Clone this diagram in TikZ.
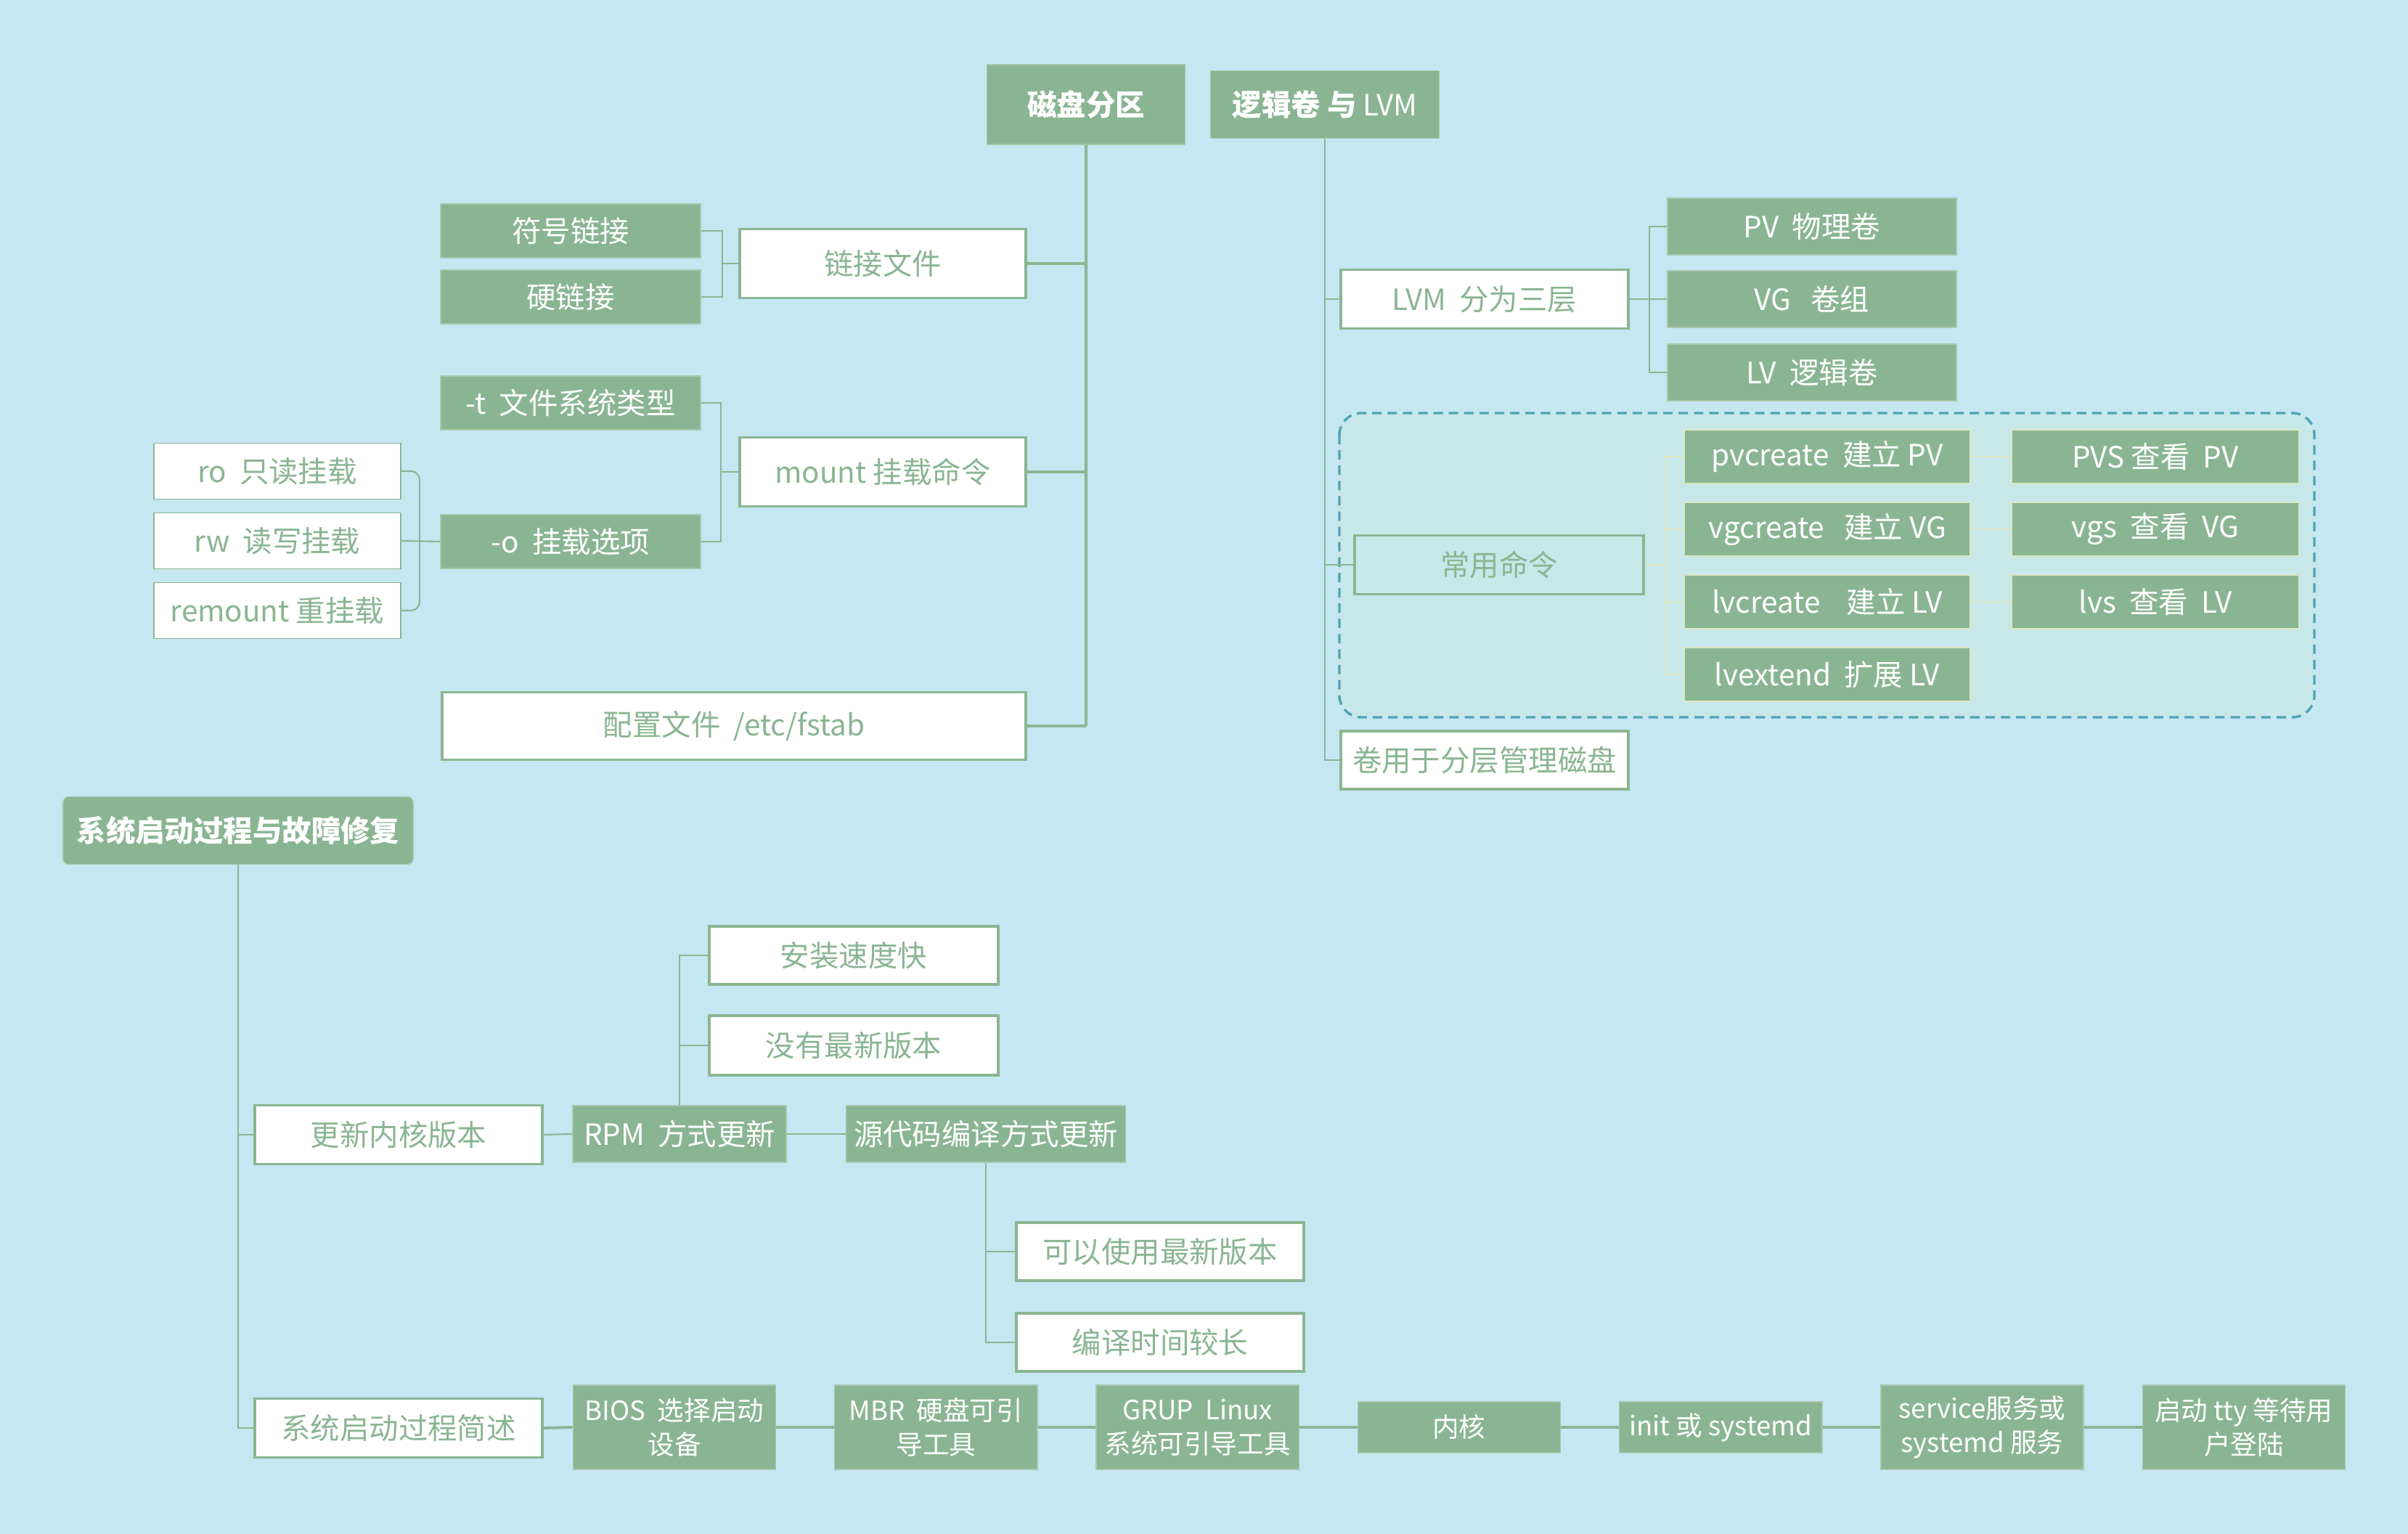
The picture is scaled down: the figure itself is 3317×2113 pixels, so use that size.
\documentclass[tikz,border=0pt]{standalone}
\usepackage{fontspec}
\setmainfont{Noto Sans CJK SC}
\usetikzlibrary{positioning}

\definecolor{bgblue}{HTML}{C5E7F1}
\definecolor{mgreen}{HTML}{8AB592}
\definecolor{grpfill}{HTML}{C8E7E9}
\definecolor{grpline}{HTML}{4FA3B5}
\definecolor{paleline}{HTML}{DCE6C2}

\tikzset{
  boxsize/.style 2 args={minimum width=#1cm, minimum height=#2cm},
  gbox/.style={fill=mgreen, draw=mgreen!75!white, line width=0.4pt, text=white, inner sep=0pt, align=center},
  wbox/.style={fill=white, draw=mgreen, line width=1.1pt, text=mgreen, inner sep=0pt, align=center},
  wthin/.style={wbox, line width=0.5pt},
  cbox/.style={gbox, draw=paleline, line width=0.7pt},
  topic/.style={gbox, font=\bfseries\fontsize{11.5}{14}\selectfont},
  stage/.style={gbox, font=\fontsize{10.4}{13.4}\selectfont},
  link/.style={draw=mgreen, line width=0.6pt},
  thicklink/.style={draw=mgreen, line width=1.1pt},
  pale/.style={draw=paleline, line width=0.6pt},
  grp/.style={draw=grpline, fill=grpfill, line width=0.95pt, dash pattern=on 3.7pt off 2.3pt, rounded corners=0.3cm}
}

\begin{document}
\begin{tikzpicture}[x=0.01cm, y=-0.01cm, font=\fontsize{11.5}{14}\selectfont]
\fill[bgblue] (0,0) rectangle (3317,2113);

% disk partitions
\node[topic, boxsize={2.73}{1.10}] (disk) at (1496,144) {磁盘分区};
\node[wbox, boxsize={3.93}{0.95}] (linkf) at (1216,363) {链接文件};
\node[gbox, boxsize={3.58}{0.74}] (symlink) at (786,318) {符号链接};
\node[gbox, boxsize={3.58}{0.74}] (hardlink) at (786,409) {硬链接};
\node[wbox, boxsize={3.93}{0.95}] (mount) at (1216,650) {mount 挂载命令};
\node[gbox, boxsize={3.58}{0.74}] (optt) at (786,555) {-t\ \ 文件系统类型};
\node[gbox, boxsize={3.58}{0.74}] (opto) at (786,746) {-o\ \ 挂载选项};
\node[wthin, boxsize={3.40}{0.77}] (ro) at (382,649) {ro\ \ 只读挂载};
\node[wthin, boxsize={3.40}{0.77}] (rw) at (382,745) {rw\ \ 读写挂载};
\node[wthin, boxsize={3.40}{0.77}] (remount) at (382,841) {remount 重挂载};
\node[wbox, boxsize={8.04}{0.93}] (fstab) at (1011,1000) {配置文件\ \ /etc/fstab};

\draw[thicklink] (disk.south) -- (disk.south |- fstab.east);
\draw[thicklink] (linkf.east) -- (linkf.east -| disk.south);
\draw[thicklink] (mount.east) -- (mount.east -| disk.south);
\draw[thicklink] (fstab.east) -- (fstab.east -| disk.south);
\draw[link] (symlink.east) -- ++(29,0) |- (linkf.west);
\draw[link] (hardlink.east) -- ++(29,0) |- (linkf.west);
\draw[link] (optt.east) -- ++(27,0) |- (mount.west);
\draw[link] (opto.east) -- ++(27,0) |- (mount.west);
\draw[link, rounded corners=0.12cm] (ro.east) -- ++(25,0) |- (remount.east);
\draw[link] (rw.east) -- (opto.west);

% logical volumes
\draw[grp] (1845,569) rectangle (3188,988);
\node[topic, boxsize={3.15}{0.93}] (lvm) at (1825,144) {逻辑卷 与 \mdseries LVM};
\node[wbox, boxsize={3.95}{0.81}] (layers) at (2045,412) {LVM\ \ 分为三层};
\node[gbox, boxsize={3.98}{0.78}] (pv) at (2496,312) {PV\ \ 物理卷};
\node[gbox, boxsize={3.98}{0.78}] (vg) at (2496,412) {VG\ \ \ 卷组};
\node[gbox, boxsize={3.98}{0.78}] (lv) at (2496,513) {LV\ \ 逻辑卷};
\node[wbox, fill=grpfill, boxsize={3.98}{0.81}] (cmds) at (2065,778) {常用命令};
\node[cbox, boxsize={3.94}{0.74}] (pvc) at (2517,629) {pvcreate\ \ 建立 PV};
\node[cbox, boxsize={3.94}{0.74}, below=0.235cm of pvc] (vgc) {vgcreate\ \ \ 建立 VG};
\node[cbox, boxsize={3.94}{0.74}, below=0.235cm of vgc] (lvc) {lvcreate\ \ \ \ 建立 LV};
\node[cbox, boxsize={3.94}{0.74}, below=0.235cm of lvc] (lve) {lvextend\ \ 扩展 LV};
\node[cbox, boxsize={3.96}{0.74}] (pvs) at (2969,629) {PVS 查看\ \ PV};
\node[cbox, boxsize={3.96}{0.74}, below=0.235cm of pvs] (vgs) {vgs\ \ 查看\ \ VG};
\node[cbox, boxsize={3.96}{0.74}, below=0.235cm of vgs] (lvs) {lvs\ \ 查看\ \ LV};
\node[wbox, boxsize={3.95}{0.80}] (layer) at (2045,1047) {卷用于分层管理磁盘};

\draw[link] (lvm.south) |- (layer.west);
\draw[link] (layers.west -| lvm.south) -- (layers.west);
\draw[link] (cmds.west -| lvm.south) -- (cmds.west);
\draw[link] (layers.east) -- ++(27,0) |- (pv.west);
\draw[link] (layers.east) -- (vg.west);
\draw[link] (layers.east) -- ++(27,0) |- (lv.west);
\draw[pale] (cmds.east) -- ++(27,0) |- (pvc.west);
\draw[pale] (cmds.east) -- ++(27,0) |- (vgc.west);
\draw[pale] (cmds.east) -- ++(27,0) |- (lvc.west);
\draw[pale] (cmds.east) -- ++(27,0) |- (lve.west);
\draw[pale] (pvc.east) -- (pvs.west);
\draw[pale] (vgc.east) -- (vgs.west);
\draw[pale] (lvc.east) -- (lvs.west);

% boot process
\node[topic, rounded corners=0.08cm, boxsize={4.82}{0.93}] (boot) at (328,1144) {系统启动过程与故障修复};
\node[wbox, boxsize={3.96}{0.81}] (kernel) at (549,1563) {更新内核版本};
\node[gbox, boxsize={2.94}{0.78}] (rpm) at (936,1562) {RPM\ \ 方式更新};
\node[gbox, boxsize={3.85}{0.78}] (src) at (1358,1562) {源代码编译方式更新};
\node[wbox, boxsize={3.98}{0.80}] (fast) at (1176,1316) {安装速度快};
\node[wbox, boxsize={3.98}{0.82}] (nonew) at (1176,1440) {没有最新版本};
\node[wbox, boxsize={3.96}{0.80}] (canew) at (1598,1724) {可以使用最新版本};
\node[wbox, boxsize={3.96}{0.80}] (slow) at (1598,1849) {编译时间较长};
\node[wbox, boxsize={3.96}{0.81}] (bootdesc) at (549,1967) {系统启动过程简述};
\node[stage, boxsize={2.79}{1.16}] (bios) at (929,1966) {BIOS\ \ 选择启动\\设备};
\node[stage, boxsize={2.79}{1.16}, right=0.797cm of bios] (mbr) {MBR\ \ 硬盘可引\\导工具};
\node[stage, boxsize={2.79}{1.16}, right=0.797cm of mbr] (grub) {GRUP\ \ Linux\\系统可引导工具};
\node[stage, boxsize={2.79}{0.70}, right=0.797cm of grub] (kern) {内核};
\node[stage, boxsize={2.79}{0.70}, right=0.797cm of kern] (init) {init 或 systemd};
\node[stage, boxsize={2.79}{1.16}, right=0.797cm of init] (svc) {service服务或\\systemd 服务};
\node[stage, boxsize={2.79}{1.16}, right=0.797cm of svc] (tty) {启动 tty 等待用\\户登陆};

\draw[link] (boot.south) |- (bootdesc.west);
\draw[link] (kernel.west -| boot.south) -- (kernel.west);
\draw[link] (kernel.east) -- (rpm.west);
\draw[link] (rpm.east) -- (src.west);
\draw[link] (rpm.north) |- (fast.west);
\draw[link] (rpm.north) |- (nonew.west);
\draw[link] (src.south) |- (canew.west);
\draw[link] (src.south) |- (slow.west);
\draw[thicklink] (bootdesc.east) -- (bios.west);
\draw[thicklink] (bios.east) -- (mbr.west);
\draw[thicklink] (mbr.east) -- (grub.west);
\draw[thicklink] (grub.east) -- (kern.west);
\draw[thicklink] (kern.east) -- (init.west);
\draw[thicklink] (init.east) -- (svc.west);
\draw[thicklink] (svc.east) -- (tty.west);
\end{tikzpicture}
\end{document}
